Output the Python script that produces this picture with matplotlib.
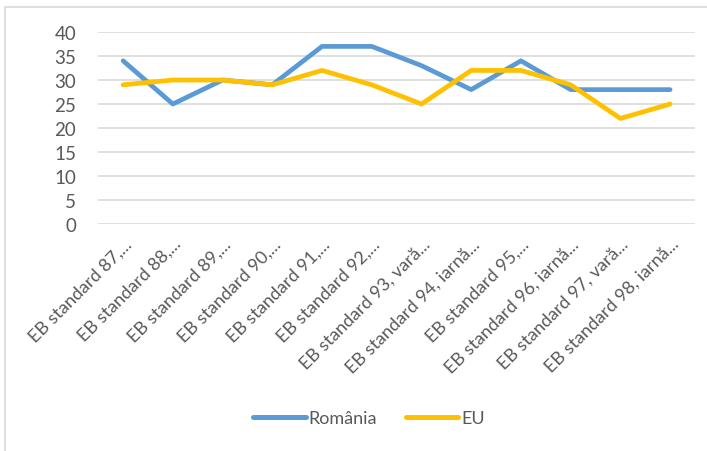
import matplotlib.pyplot as plt
from matplotlib.patches import Rectangle

labels = ['EB standard 87,...', 'EB standard 88,...', 'EB standard 89,...',
          'EB standard 90,...', 'EB standard 91,...', 'EB standard 92,...',
          'EB standard 93, vară...', 'EB standard 94, iarnă...',
          'EB standard 95,...', 'EB standard 96, iarnă...',
          'EB standard 97, vară...', 'EB standard 98, iarnă...']
romania = [34, 25, 30, 29, 37, 37, 33, 28, 34, 28, 28, 28]
eu = [29, 30, 30, 29, 32, 29, 25, 32, 32, 29, 22, 25]
yticks = [0, 5, 10, 15, 20, 25, 30, 35, 40]

plt.rcParams['font.family'] = ['Lato', 'DejaVu Sans']
fig = plt.figure(figsize=(7.07, 4.52), dpi=100)
ax = fig.add_axes([0.139, 0.502, 0.844, 0.425])

x = range(len(labels))
ax.plot(x, romania, color='#5B9BD5', lw=3.4, label='România', solid_capstyle='round', zorder=3)
ax.plot(x, eu, color='#FFC000', lw=3.4, label='EU', solid_capstyle='round', zorder=3)

ax.set_xlim(-0.5, len(labels) - 0.5)
ax.set_ylim(0, 40)
ax.set_yticks(yticks)
ax.set_xticks(list(x))
ax.set_xticklabels(labels, rotation=45, ha='right', rotation_mode='anchor')
ax.tick_params(axis='both', length=0, colors='#595959', labelsize=13)
ax.tick_params(axis='y', labelsize=13.5, pad=16)
ax.tick_params(axis='x', pad=8)
ax.grid(axis='y', color='#D9D9D9', lw=1.2)
ax.set_axisbelow(True)
for s in ax.spines.values():
    s.set_visible(False)

leg = fig.legend(loc='center', bbox_to_anchor=(0.522, 0.073), ncol=2, frameon=False,
                 fontsize=13, handlelength=2.9, handletextpad=0.15, columnspacing=1.6)
for t in leg.get_texts():
    t.set_color('#595959')
for h in leg.legend_handles:
    h.set_linewidth(3.6)

fig.patches.append(Rectangle((5 / 707, -0.1), 1.1, 1 - 8 / 452 + 0.1, transform=fig.transFigure,
                             fill=False, edgecolor='#D9D9D9', lw=1.2))

fig.savefig('out.png', dpi=100)
